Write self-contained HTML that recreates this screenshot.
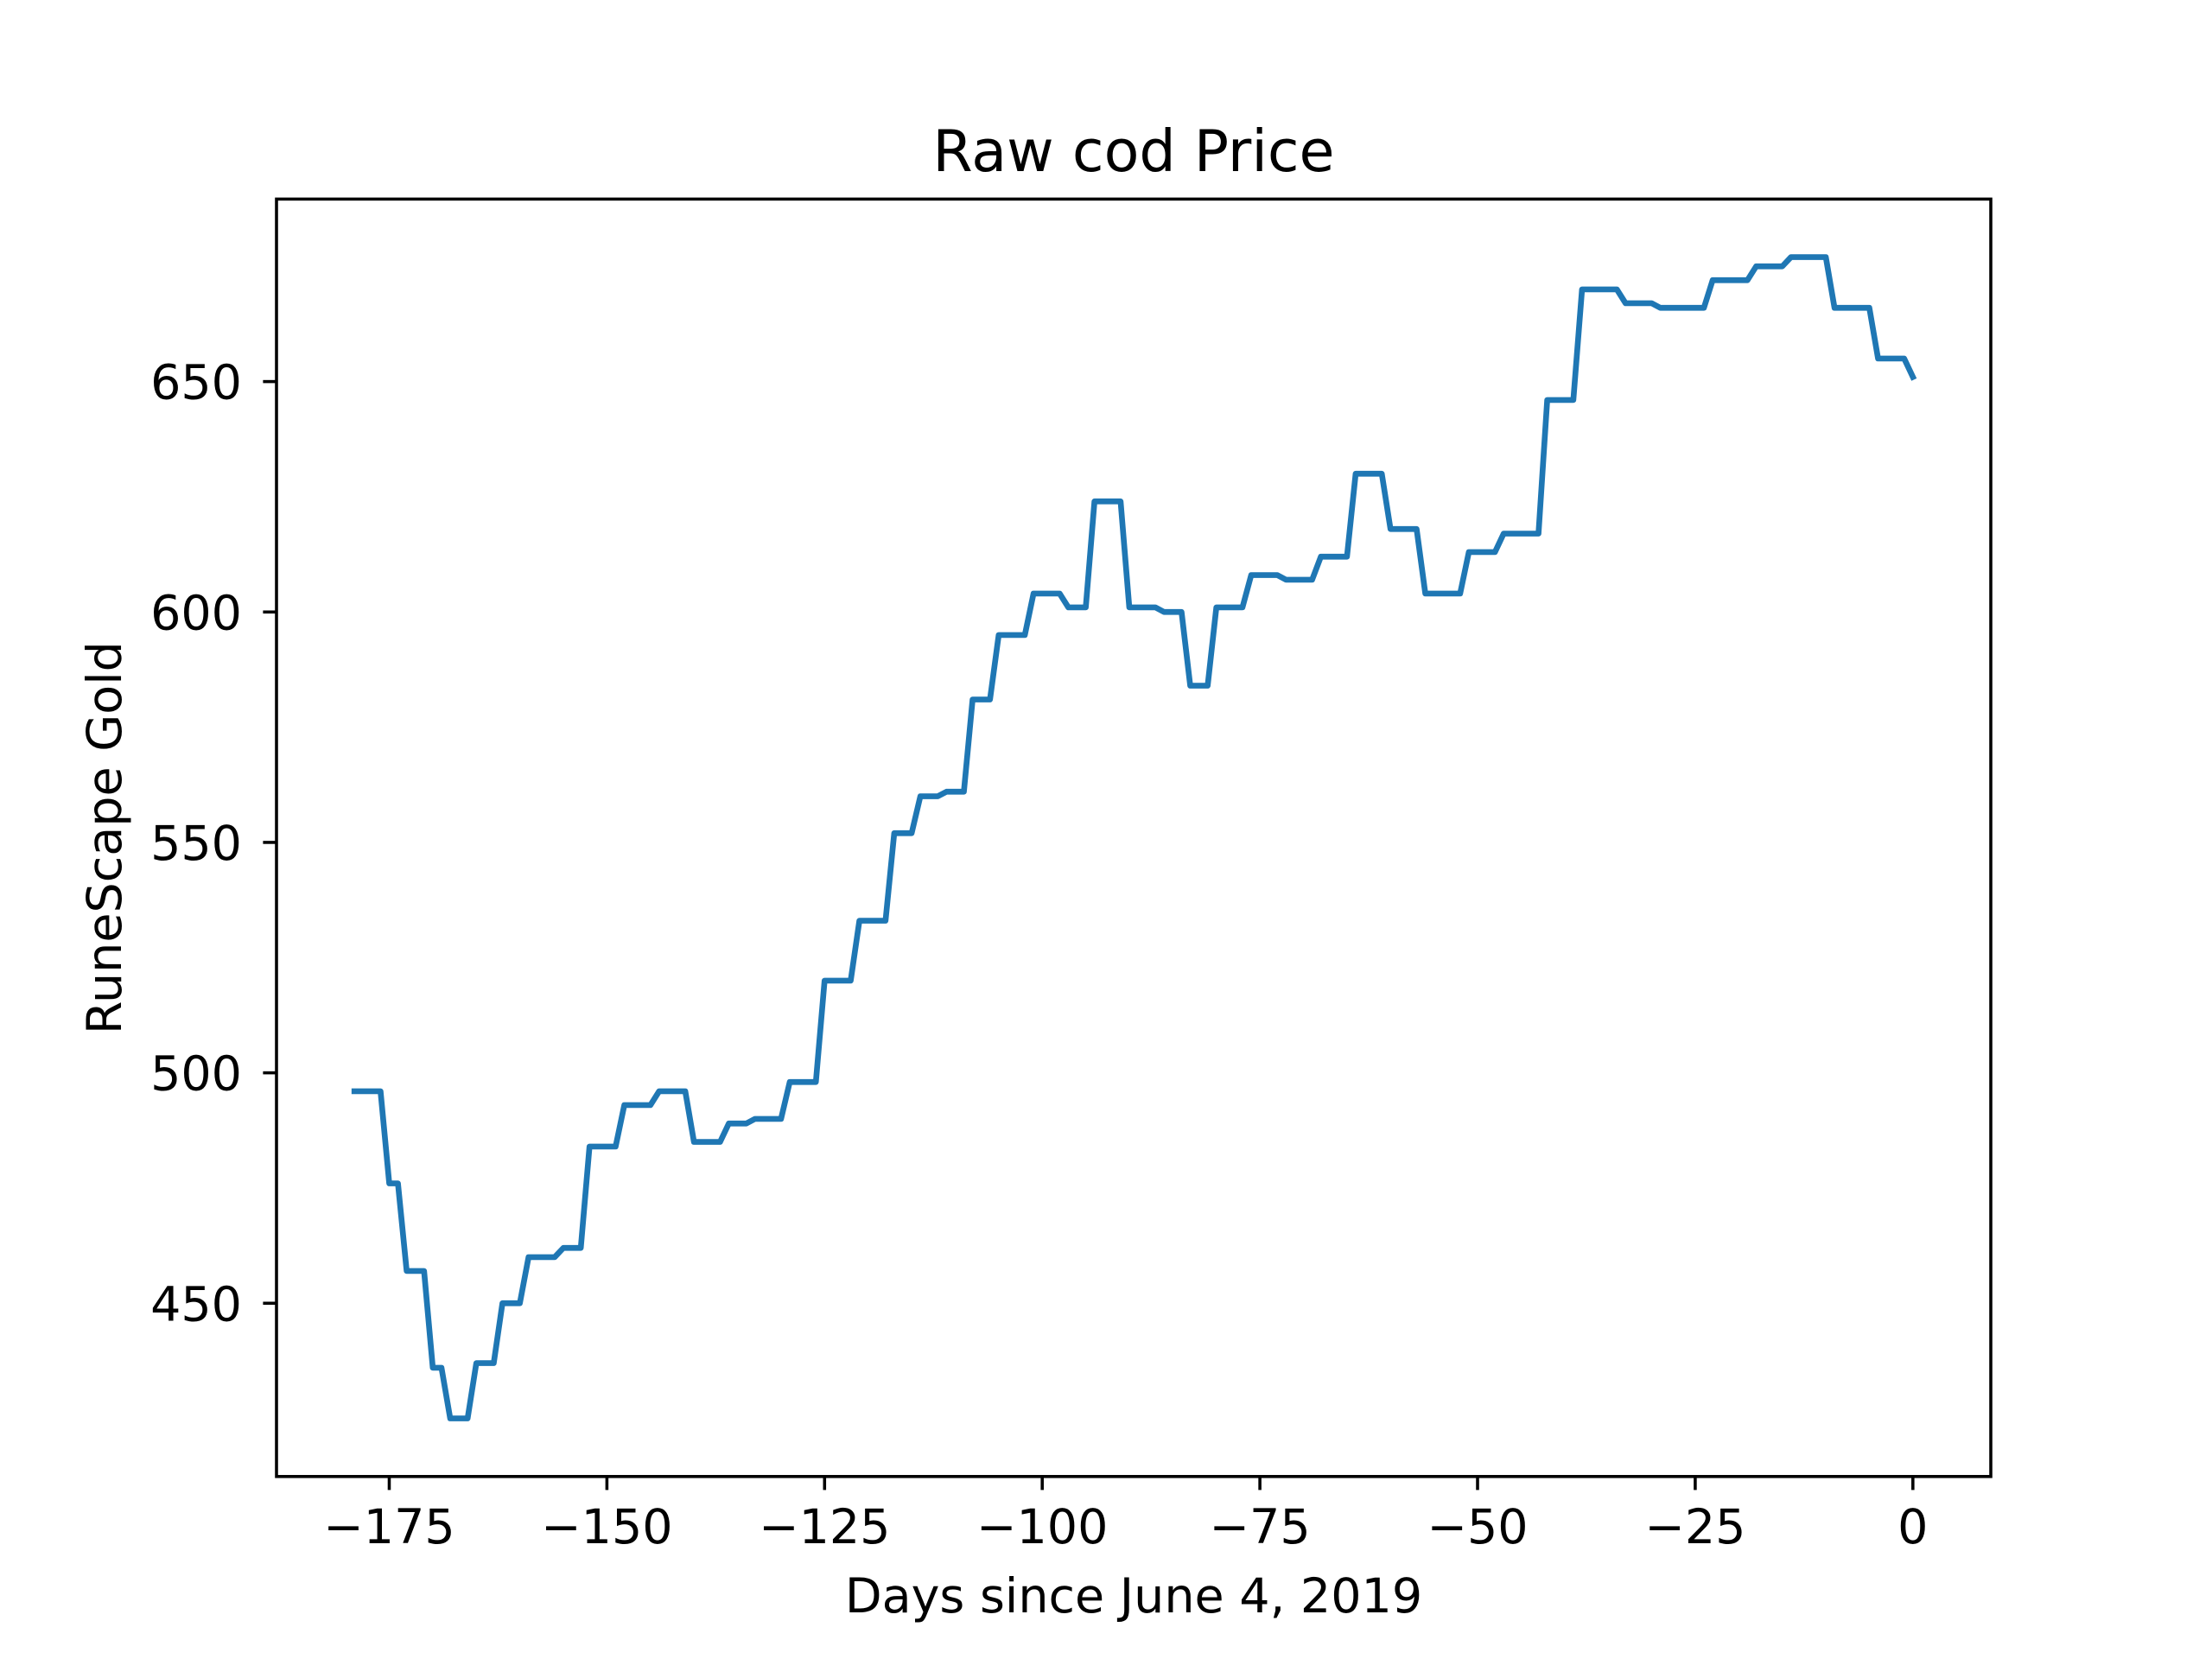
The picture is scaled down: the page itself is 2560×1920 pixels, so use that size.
<!DOCTYPE html>
<html>
<head>
<meta charset="utf-8">
<style>
html,body{margin:0;padding:0;background:#fff;}
svg{display:block;}
text{font-family:"DejaVu Sans","Liberation Sans",sans-serif;fill:#000;}
</style>
</head>
<body>
<svg id="chart" width="2560" height="1920" viewBox="0 0 2560 1920" xmlns="http://www.w3.org/2000/svg">
  <rect x="0" y="0" width="2560" height="1920" fill="#ffffff"/>
  <text x="1312" y="198" font-size="66.7" text-anchor="middle">Raw cod Price</text>
  <text x="1312" y="1866" font-size="55.5" text-anchor="middle">Days since June 4, 2019</text>
  <text x="0" y="0" font-size="55.5" text-anchor="middle" transform="translate(140,969.6) rotate(-90)">RuneScape Gold</text>
  <g id="marks"></g>
  <g id="axes"></g>
</svg>
<script>
const xTickValues = [-175, -150, -125, -100, -75, -50, -25, 0];
const xTickLabels = ["\u2212175", "\u2212150", "\u2212125", "\u2212100", "\u221275", "\u221250", "\u221225", "0"];
const yTickValues = [450, 500, 550, 600, 650];
const yTickLabels = ["450", "500", "550", "600", "650"];
const startDay = -179;
const prices = [
  496,496,496,496,
  476,476,
  457,457,457,
  436,436,
  425,425,425,
  437,437,437,
  450,450,450,
  460,460,460,460,
  462,462,462,
  484,484,484,484,
  493,493,493,493,
  496,496,496,496,
  485,485,485,485,
  489,489,489,
  490,490,490,490,
  498,498,498,498,
  520,520,520,520,
  533,533,533,533,
  552,552,552,
  560,560,560,
  561,561,561,
  581,581,581,
  595,595,595,595,
  604,604,604,604,
  601,601,601,
  624,624,624,624,
  601,601,601,601,
  600,600,600,
  584,584,584,
  601,601,601,601,
  608,608,608,608,
  607,607,607,607,
  612,612,612,612,
  630,630,630,630,
  618,618,618,618,
  604,604,604,604,604,
  613,613,613,613,
  617,617,617,617,617,
  646,646,646,646,
  670,670,670,670,670,
  667,667,667,667,
  666,666,666,666,666,666,
  672,672,672,672,672,
  675,675,675,675,
  677,677,677,677,677,
  666,666,666,666,666,
  655,655,655,655,
  651
];

const NS = "http://www.w3.org/2000/svg";
const AX = {left: 320, right: 2304, top: 230.4, bottom: 1708.8};
const days = prices.map((p, i) => startDay + i);
const xMinD = Math.min(...days), xMaxD = Math.max(...days);
const yMinD = Math.min(...prices), yMaxD = Math.max(...prices);
const xPad = (xMaxD - xMinD) * 0.05, yPad = (yMaxD - yMinD) * 0.05;
const xlo = xMinD - xPad, xhi = xMaxD + xPad;
const ylo = yMinD - yPad, yhi = yMaxD + yPad;
function xScale(v){ return AX.left + (v - xlo) / (xhi - xlo) * (AX.right - AX.left); }
function yScale(v){ return AX.bottom - (v - ylo) / (yhi - ylo) * (AX.bottom - AX.top); }

const marks = document.getElementById('marks');
const line = document.createElementNS(NS, 'polyline');


line.setAttribute('points', prices.map((p, i) => xScale(days[i]).toFixed(2) + ',' + yScale(p).toFixed(2)).join(' '));
line.setAttribute('fill', 'none');
line.setAttribute('stroke', '#1f77b4');
line.setAttribute('stroke-width', '6.67');
line.setAttribute('stroke-linejoin', 'round');
line.setAttribute('stroke-linecap', 'square');
marks.appendChild(line);

const axes = document.getElementById('axes');
const frame = document.createElementNS(NS, 'rect');


frame.setAttribute('x', AX.left);
frame.setAttribute('y', AX.top);
frame.setAttribute('width', AX.right - AX.left);
frame.setAttribute('height', AX.bottom - AX.top);
frame.setAttribute('fill', 'none');
frame.setAttribute('stroke', '#000');
frame.setAttribute('stroke-width', '3.56');
axes.appendChild(frame);

xTickValues.forEach((v, i) => {
  const x = xScale(v);
  const t = document.createElementNS(NS, 'line');
  
  
  t.setAttribute('x1', x); t.setAttribute('x2', x);
  t.setAttribute('y1', AX.bottom); t.setAttribute('y2', AX.bottom + 15.6);
  t.setAttribute('stroke', '#000'); t.setAttribute('stroke-width', '3.56');
  axes.appendChild(t);
  const lb = document.createElementNS(NS, 'text');
  
  
  lb.setAttribute('x', x);
  lb.setAttribute('y', 1786);
  lb.setAttribute('font-size', '55.5');
  lb.setAttribute('text-anchor', 'middle');
  lb.textContent = xTickLabels[i];
  axes.appendChild(lb);
});

yTickValues.forEach((v, i) => {
  const y = yScale(v);
  const t = document.createElementNS(NS, 'line');
  
  
  t.setAttribute('x1', AX.left - 15.6); t.setAttribute('x2', AX.left);
  t.setAttribute('y1', y); t.setAttribute('y2', y);
  t.setAttribute('stroke', '#000'); t.setAttribute('stroke-width', '3.56');
  axes.appendChild(t);
  const lb = document.createElementNS(NS, 'text');
  
  
  lb.setAttribute('x', 280);
  lb.setAttribute('y', y + 20);
  lb.setAttribute('font-size', '55.5');
  lb.setAttribute('text-anchor', 'end');
  lb.textContent = yTickLabels[i];
  axes.appendChild(lb);
});
</script>
</body>
</html>
